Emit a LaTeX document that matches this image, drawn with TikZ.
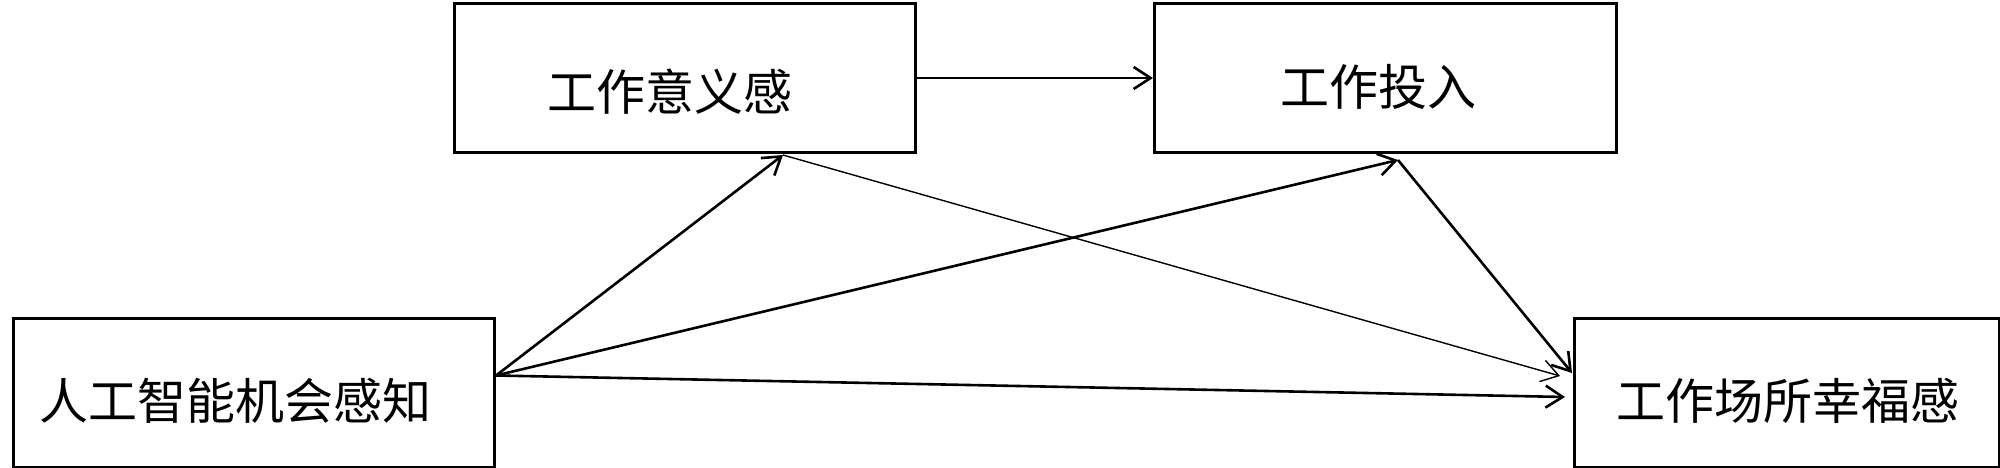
\documentclass[tikz,border=0pt]{standalone}
\usepackage{fontspec}
\newfontfamily\cjk{Noto Sans CJK SC}
\usetikzlibrary{arrows.meta}
\begin{document}
\begin{tikzpicture}[x=1pt,y=-1pt,
  boxnode/.style={draw=black,line width=3pt,rectangle,inner sep=0pt,anchor=north west},
  lbl/.style={font=\cjk\fontsize{49}{56}\selectfont,inner sep=0pt},
  arr/.style={line width=2.6pt,-{Straight Barb[length=17pt,width=22pt,line width=2.6pt]}},
  thinarr/.style={line width=1.4pt,-{Straight Barb[length=17pt,width=22pt,line width=1.4pt]}}]
\useasboundingbox (0,0) rectangle (2000,468);
\fill[white] (0,0) rectangle (2000,468);
% boxes
\node[boxnode,minimum width=461pt,minimum height=149pt] (aBox) at (453,2) {};
\node[boxnode,minimum width=462pt,minimum height=149pt] (bBox) at (1153,2) {};
\node[boxnode,minimum width=481pt,minimum height=149pt] (cBox) at (12,317) {};
\node[boxnode,minimum width=425pt,minimum height=149pt] (dBox) at (1573,317) {};
% labels
\node[lbl] (aText) at (670,92) {工作意义感};
\node[lbl] (bText) at (1378,87) {工作投入};
\node[lbl] (cText) at (235,401) {人工智能机会感知};
\node[lbl] (dText) at (1788,401) {工作场所幸福感};
% connector end points
\coordinate (cOut) at ([yshift=17.5pt]cBox.east);
\coordinate (aIn) at (783,155);
\coordinate (bIn) at (1398,160);
\coordinate (dInB) at (1572,373);
\coordinate (dInA) at (1560,376);
\coordinate (dInC) at (1565,397);
% connectors
\draw[arr] (aBox.east) -- (bBox.west);
\draw[arr] (cOut) -- (aIn);
\draw[arr] (cOut) -- (bIn);
\draw[arr] (cOut) -- (dInC);
\draw[thinarr] (aIn) -- (dInA);
\draw[arr] (bIn) -- (dInB);
\end{tikzpicture}
\end{document}
